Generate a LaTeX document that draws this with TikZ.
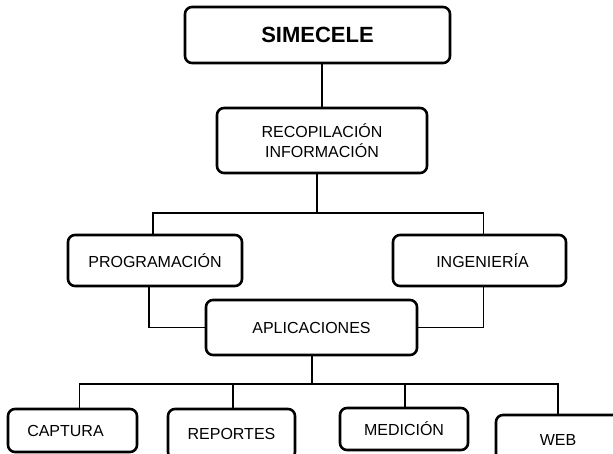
\documentclass[tikz,border=0pt]{standalone}
\usepackage{fontspec}
\setmainfont{Liberation Sans}
\begin{document}
\begin{tikzpicture}[x=1pt,y=-1pt,
  box/.style={draw=black, line width=2.6pt, rounded corners=7pt, fill=white,
    inner sep=0pt, align=center, font=\fontsize{16}{19.5}\selectfont},
  link/.style={draw=black, line width=1.4pt}]
\useasboundingbox (0,0) rectangle (613,454);
\clip (0,0) rectangle (613,454);
\fill[white] (0,0) rectangle (613,454);
% boxes
\node[box, minimum width=265pt, minimum height=56pt, font=\fontsize{22}{26}\selectfont\bfseries] (sim) at (317.5,35) {SIMECELE};
\node[box, minimum width=210pt, minimum height=65pt] (rec) at (322,140.5) {RECOPILACIÓN\\INFORMACIÓN};
\node[box, minimum width=174pt, minimum height=51pt] (prog) at (155,260.5) {PROGRAMACIÓN};
\node[box, minimum width=173pt, minimum height=51pt] (inge) at (479.5,260.5) {\hspace*{6pt}INGENIERÍA};
\node[box, minimum width=211pt, minimum height=55pt] (apl) at (311.5,327.5) {APLICACIONES};
\node[box, minimum width=129pt, minimum height=43pt] (cap) at (72.5,430.5) {CAPTURA\hspace*{14pt}};
\node[box, minimum width=127pt, minimum height=50pt] (rep) at (231.5,434) {REPORTES};
\node[box, minimum width=128pt, minimum height=42pt] (med) at (404,429) {MEDICIÓN};
\node[box, minimum width=124pt, minimum height=50pt] (web) at (558,440) {WEB};
% branch points
\coordinate (b1) at (317,213);
\coordinate (b2) at (312,384);
% connectors
\draw[link] (sim.south -| rec.north) -- (rec.north);
\draw[link] ([xshift=-5pt]rec.south) -- ([xshift=-5pt]rec.south |- b1);
\draw[link] ([xshift=-2pt]prog.north) |- (b1) -| ([xshift=4pt]inge.north);
\draw[link] ([xshift=-6pt]prog.south) |- (apl.west);
\draw[link] ([xshift=4pt]inge.south) |- (apl.east);
\draw[link] (apl.south -| b2) -- (b2);
\draw[link] ([xshift=7pt]cap.north) |- (b2) -| (web.north);
\draw[link] ([xshift=1.5pt]rep.north) -- ([xshift=1.5pt]rep.north |- b2);
\draw[link] ([xshift=1pt]med.north) -- ([xshift=1pt]med.north |- b2);
\end{tikzpicture}
\end{document}
